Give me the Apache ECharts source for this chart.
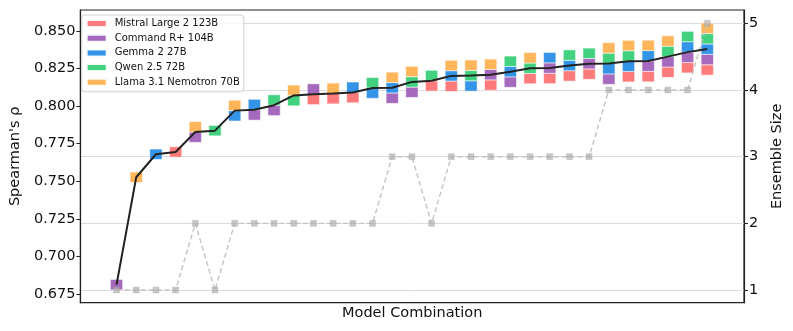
<!DOCTYPE html>
<html>
<head>
<meta charset="utf-8">
<script src="https://cdn.jsdelivr.net/npm/echarts@6/dist/echarts.min.js"></script>
<style>
html,body{margin:0;padding:0;background:#fff;}
#chart{width:793px;height:331px;}
</style>
</head>
<body>
<div id="chart"></div>
<script>
// ---- data ----
const modelNames = ['Mistral Large 2 123B', 'Command R+ 104B', 'Gemma 2 27B', 'Qwen 2.5 72B', 'Llama 3.1 Nemotron 70B'];
const modelColors = ['#FF6B6B', '#9B59B6', '#1E88E5', '#2ECC71', '#FFAD47'];
// members of each combination (indices into modelNames), sorted by ensemble score
const combinations = [
  [1], [4], [2], [0], [1, 4], [3], [2, 4], [1, 2], [1, 3], [3, 4],
  [0, 1], [0, 4], [0, 2], [2, 3], [1, 2, 4], [1, 3, 4], [0, 3], [0, 2, 4], [2, 3, 4], [0, 1, 4],
  [1, 2, 3], [0, 3, 4], [0, 1, 2], [0, 2, 3], [0, 1, 3], [1, 2, 3, 4], [0, 2, 3, 4], [0, 1, 2, 4], [0, 1, 3, 4], [0, 1, 2, 3],
  [0, 1, 2, 3, 4]
];
const ensembleScore = [
  0.6812, 0.7526, 0.7679, 0.7694, 0.7827, 0.7836, 0.7969, 0.7975, 0.8005, 0.8070,
  0.8078, 0.8083, 0.8090, 0.8120, 0.8121, 0.8160, 0.8168, 0.8200, 0.8202, 0.8208,
  0.8228, 0.8251, 0.8252, 0.8269, 0.8281, 0.8282, 0.8298, 0.8299, 0.8328, 0.8358,
  0.8378
];
const ensembleSize = [1, 1, 1, 1, 2, 1, 2, 2, 2, 2, 2, 2, 2, 2, 3, 3, 2, 3, 3, 3, 3, 3, 3, 3, 3, 4, 4, 4, 4, 4, 5];
const leftTicks = [0.675, 0.700, 0.725, 0.750, 0.775, 0.800, 0.825, 0.850];
const rightTicks = [1, 2, 3, 4, 5];

// ---- chart ----
const FONT = 'DejaVu Sans';
const SQ_W = 12.3, SQ_H = 10.4;
const chart = echarts.init(document.getElementById('chart'), null, {renderer: 'canvas'});

const squareSeries = modelNames.map((name, m) => {
  const data = [];
  combinations.forEach((combo, i) => {
    const k = combo.indexOf(m);
    if (k < 0) return;
    const n = combo.length;
    data.push({
      value: [i, ensembleScore[i]],
      symbolOffset: [0, -(k - (n - 1) / 2) * SQ_H]
    });
  });
  return {
    name: name,
    type: 'scatter',
    xAxisIndex: 0,
    yAxisIndex: 0,
    symbol: 'rect',
    symbolSize: [SQ_W, SQ_H],
    itemStyle: {color: modelColors[m], opacity: 0.9, borderColor: '#fff', borderWidth: 0.6},
    emphasis: {disabled: true},
    z: 2,
    data: data
  };
});

const option = {
  animation: false,
  backgroundColor: '#fff',
  textStyle: {fontFamily: FONT},
  grid: {left: 76, right: 44, top: 10, bottom: 28.3, show: true, borderColor: '#222', borderWidth: 1.2, backgroundColor: 'transparent'},
  legend: {
    orient: 'vertical',
    left: 81.7,
    top: 15,
    data: modelNames,
    icon: 'rect',
    itemWidth: 20,
    itemHeight: 7,
    itemGap: 2.7,
    padding: [2.5, 4, 3.5, 4],
    borderColor: '#d0d0d0',
    borderWidth: 1,
    borderRadius: 3,
    backgroundColor: 'rgba(255,255,255,0.8)',
    textStyle: {fontFamily: FONT, fontSize: 10, color: '#111', lineHeight: 12, padding: [0, 0, 0, 3]},
    z: 10
  },
  xAxis: {
    type: 'value',
    min: -1.835,
    max: 31.865,
    name: 'Model Combination',
    nameLocation: 'middle',
    nameGap: 3,
    nameTextStyle: {fontFamily: FONT, fontSize: 14.5, color: '#111'},
    axisLine: {show: true, onZero: false, lineStyle: {color: '#222', width: 1.2}},
    axisTick: {show: false},
    axisLabel: {show: false},
    splitLine: {show: false}
  },
  yAxis: [
    {
      type: 'value',
      position: 'left',
      min: 0.6692,
      max: 0.8638,
      name: "Spearman's ρ",
      nameLocation: 'middle',
      nameRotate: 90,
      nameGap: 51,
      nameTextStyle: {fontFamily: FONT, fontSize: 14.5, color: '#111'},
      axisLine: {show: true, onZero: false, lineStyle: {color: '#222', width: 1.2}},
      axisTick: {show: true, inside: false, length: 4, lineStyle: {color: '#222'}, customValues: leftTicks},
      axisLabel: {show: true, fontFamily: FONT, fontSize: 14.5, color: '#111', margin: 5, customValues: leftTicks,
        formatter: v => v.toFixed(3)},
      splitLine: {show: false}
    },
    {
      type: 'value',
      position: 'right',
      min: 0.81,
      max: 5.2,
      name: 'Ensemble Size',
      nameLocation: 'middle',
      nameRotate: 90,
      nameGap: 26,
      nameTextStyle: {fontFamily: FONT, fontSize: 14.5, color: '#111'},
      axisLine: {show: true, onZero: false, lineStyle: {color: '#222', width: 1.2}},
      axisTick: {show: true, inside: false, length: 4, lineStyle: {color: '#222'}, customValues: rightTicks},
      axisLabel: {show: true, fontFamily: FONT, fontSize: 14.5, color: '#111', margin: 5, customValues: rightTicks},
      splitLine: {show: true, lineStyle: {color: '#dcdcdc', width: 1}}
    }
  ],
  series: squareSeries.concat([
    {
      name: 'Ensemble',
      type: 'line',
      xAxisIndex: 0,
      yAxisIndex: 0,
      data: ensembleScore.map((v, i) => [i, v]),
      symbol: 'none',
      lineStyle: {color: '#222', width: 2},
      emphasis: {disabled: true},
      z: 4
    },
    {
      name: 'Size',
      type: 'line',
      xAxisIndex: 0,
      yAxisIndex: 1,
      data: ensembleSize.map((v, i) => [i, v]),
      symbol: 'rect',
      symbolSize: 6,
      itemStyle: {color: 'rgba(175,175,175,0.7)', borderColor: 'rgba(160,160,160,0.5)', borderWidth: 0.5},
      lineStyle: {color: '#c4c4c4', width: 1.4, type: [5, 3]},
      emphasis: {disabled: true},
      z: 3
    }
  ])
};
chart.setOption(option);
</script>
</body>
</html>
